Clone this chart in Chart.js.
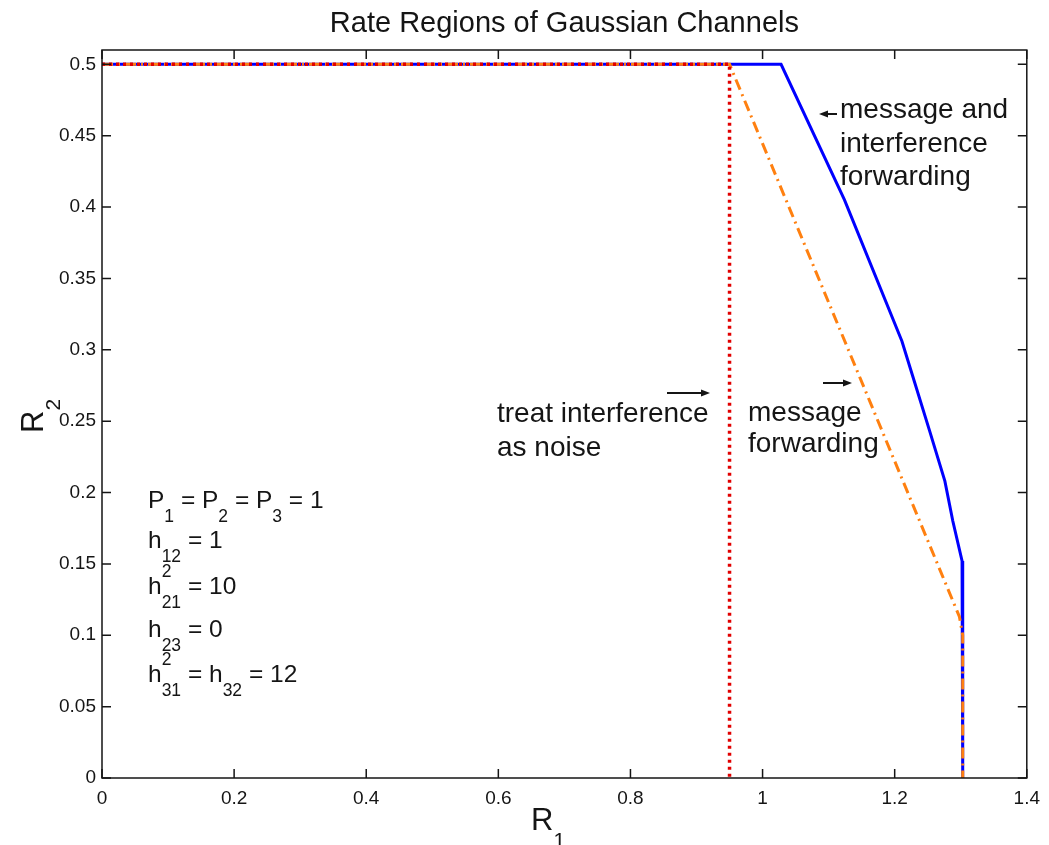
<!DOCTYPE html>
<html>
<head>
<meta charset="utf-8">
<script src="https://cdn.jsdelivr.net/npm/chart.js@4.4.1/dist/chart.umd.min.js"></script>
<style>
  html, body { margin: 0; padding: 0; background: #fff; }
</style>
</head>
<body>
<canvas id="rates" width="1049" height="845"></canvas>
<script>
// values (R1, R2 pairs)
var mifR1 = [0, 1.028, 1.124, 1.211, 1.227, 1.253, 1.276, 1.288, 1.302, 1.303, 1.303];
var mifR2 = [0.5, 0.5, 0.405, 0.306, 0.282, 0.243, 0.208, 0.180, 0.152, 0.12, 0];

var mfR1 = [0, 0.95, 1.298, 1.303, 1.303];
var mfR2 = [0.5, 0.5, 0.113, 0.1, 0];

var tinR1 = [0, 0.95, 0.95];
var tinR2 = [0.5, 0.5, 0];

var xTicks = [0, 0.2, 0.4, 0.6, 0.8, 1, 1.2, 1.4];
var xTickLabels = ['0', '0.2', '0.4', '0.6', '0.8', '1', '1.2', '1.4'];
var yTicks = [0, 0.05, 0.1, 0.15, 0.2, 0.25, 0.3, 0.35, 0.4, 0.45, 0.5];
var yTickLabels = ['0', '0.05', '0.1', '0.15', '0.2', '0.25', '0.3', '0.35', '0.4', '0.45', '0.5'];

var FONT = '"Liberation Sans", Arial, Helvetica, sans-serif';
var INK = '#151515';

function toPoints(xs, ys) {
    var pts = [];
    for (var i = 0; i < xs.length; i++) {
        pts.push({ x: xs[i], y: ys[i] });
    }
    return pts;
}

// text with sub/superscripts, MATLAB style
function drawRich(ctx, x, y, parts, size, small) {
    parts.forEach(function (p) {
        if (typeof p === 'string') {
            ctx.font = size + 'px ' + FONT;
            ctx.fillText(p, x, y);
            x += ctx.measureText(p).width;
        } else {
            ctx.font = small + 'px ' + FONT;
            var w = 0;
            if (p.sup) {
                ctx.fillText(p.sup, x, y - size * 0.7);
                w = ctx.measureText(p.sup).width;
            }
            if (p.sub) {
                ctx.fillText(p.sub, x, y + size * 0.56);
                w = Math.max(w, ctx.measureText(p.sub).width);
            }
            x += w;
        }
    });
}

function arrow(ctx, x1, y, x2) {
    var dir = x2 > x1 ? 1 : -1;
    ctx.beginPath();
    ctx.moveTo(x1, y);
    ctx.lineTo(x2 - dir * 6, y);
    ctx.lineWidth = 2;
    ctx.strokeStyle = INK;
    ctx.stroke();
    ctx.beginPath();
    ctx.moveTo(x2, y);
    ctx.lineTo(x2 - dir * 9, y - 3.5);
    ctx.lineTo(x2 - dir * 9, y + 3.5);
    ctx.closePath();
    ctx.fillStyle = INK;
    ctx.fill();
}

var matlabAxes = {
    id: 'matlabAxes',
    afterDatasetsDraw: function (chart) {
        var ctx = chart.ctx;
        var a = chart.chartArea;
        var xs = chart.scales.x, ys = chart.scales.y;
        ctx.save();
        ctx.strokeStyle = INK;
        ctx.lineWidth = 1.5;
        ctx.strokeRect(a.left, a.top, a.right - a.left, a.bottom - a.top);
        ctx.beginPath();
        xTicks.forEach(function (v) {
            var px = xs.getPixelForValue(v);
            ctx.moveTo(px, a.bottom); ctx.lineTo(px, a.bottom - 9);
            ctx.moveTo(px, a.top); ctx.lineTo(px, a.top + 9);
        });
        yTicks.forEach(function (v) {
            var py = ys.getPixelForValue(v);
            ctx.moveTo(a.left, py); ctx.lineTo(a.left + 9, py);
            ctx.moveTo(a.right, py); ctx.lineTo(a.right - 9, py);
        });
        ctx.stroke();

        ctx.fillStyle = INK;
        ctx.textBaseline = 'alphabetic';

        // title, centred over the axes box
        ctx.textAlign = 'center';
        ctx.font = '29px ' + FONT;
        ctx.fillText('Rate Regions of Gaussian Channels', (a.left + a.right) / 2, 32);
        ctx.textAlign = 'left';

        // axis labels
        drawRich(ctx, 531, 830, ['R', { sub: '1' }], 31, 21);
        ctx.save();
        ctx.translate(43, 433);
        ctx.rotate(-Math.PI / 2);
        drawRich(ctx, 0, 0, ['R', { sub: '2' }], 31, 21);
        ctx.restore();

        // curve notes
        ctx.font = '28px ' + FONT;
        ctx.fillText('message and', 840, 118);
        ctx.fillText('interference', 840, 152);
        ctx.fillText('forwarding', 840, 185);
        arrow(ctx, 837, 114, 819);

        ctx.fillText('treat interference', 497, 422);
        ctx.fillText('as noise', 497, 456);
        arrow(ctx, 667, 393, 710);

        ctx.fillText('message', 748, 421);
        ctx.fillText('forwarding', 748, 452);
        arrow(ctx, 823, 383, 852);

        // channel parameters
        drawRich(ctx, 148, 508, ['P', { sub: '1' }, ' = P', { sub: '2' }, ' = P', { sub: '3' }, ' = 1'], 24.5, 17.5);
        drawRich(ctx, 148, 548, ['h', { sub: '12' }, ' = 1'], 24.5, 17.5);
        drawRich(ctx, 148, 594, ['h', { sup: '2', sub: '21' }, ' = 10'], 24.5, 17.5);
        drawRich(ctx, 148, 637, ['h', { sub: '23' }, ' = 0'], 24.5, 17.5);
        drawRich(ctx, 148, 682, ['h', { sup: '2', sub: '31' }, ' = h', { sub: '32' }, ' = 12'], 24.5, 17.5);
        ctx.restore();
    }
};

var ratesChart = new Chart(
    document.getElementById('rates'),
    {
        type: 'scatter',
        data: {
            datasets: [
                {
                    label: 'treat interference as noise',
                    data: toPoints(tinR1, tinR2),
                    showLine: true,
                    borderColor: 'rgb(225, 0, 0)',
                    borderWidth: 3.5,
                    borderDash: [3, 4],
                    pointRadius: 0,
                    clip: false,
                    order: 0
                },
                {
                    label: 'message forwarding',
                    data: toPoints(mfR1, mfR2),
                    showLine: true,
                    borderColor: 'rgb(255, 128, 16)',
                    borderWidth: 3,
                    borderDash: [11, 5, 2, 5],
                    pointRadius: 0,
                    clip: false,
                    order: 1
                },
                {
                    label: 'message and interference forwarding',
                    data: toPoints(mifR1, mifR2),
                    showLine: true,
                    borderColor: 'rgb(0, 0, 255)',
                    borderWidth: 3,
                    pointRadius: 0,
                    clip: false,
                    order: 2
                }
            ]
        },
        options: {
            responsive: false,
            animation: false,
            layout: {
                padding: { left: 0, right: 22, top: 50, bottom: 0 }
            },
            scales: {
                x: {
                    type: 'linear',
                    min: 0,
                    max: 1.4,
                    afterBuildTicks: function (s) {
                        s.ticks = xTicks.map(function (v) { return { value: v }; });
                    },
                    afterFit: function (s) { s.height = 67; },
                    grid: { display: false, drawTicks: false },
                    border: { display: false },
                    ticks: {
                        padding: 9,
                        color: INK,
                        font: { family: FONT, size: 19 },
                        maxRotation: 0,
                        autoSkip: false,
                        callback: function (v, i) { return xTickLabels[i]; }
                    }
                },
                y: {
                    type: 'linear',
                    min: 0,
                    max: 0.51,
                    afterBuildTicks: function (s) {
                        s.ticks = yTicks.map(function (v) { return { value: v }; });
                    },
                    afterFit: function (s) { s.width = 102; },
                    grid: { display: false, drawTicks: false },
                    border: { display: false },
                    ticks: {
                        padding: 6,
                        color: INK,
                        font: { family: FONT, size: 19 },
                        autoSkip: false,
                        callback: function (v, i) { return yTickLabels[i]; }
                    }
                }
            },
            plugins: {
                legend: { display: false },
                tooltip: { enabled: false },
                title: { display: false }
            }
        },
        plugins: [matlabAxes]
    }
);
</script>
</body>
</html>
